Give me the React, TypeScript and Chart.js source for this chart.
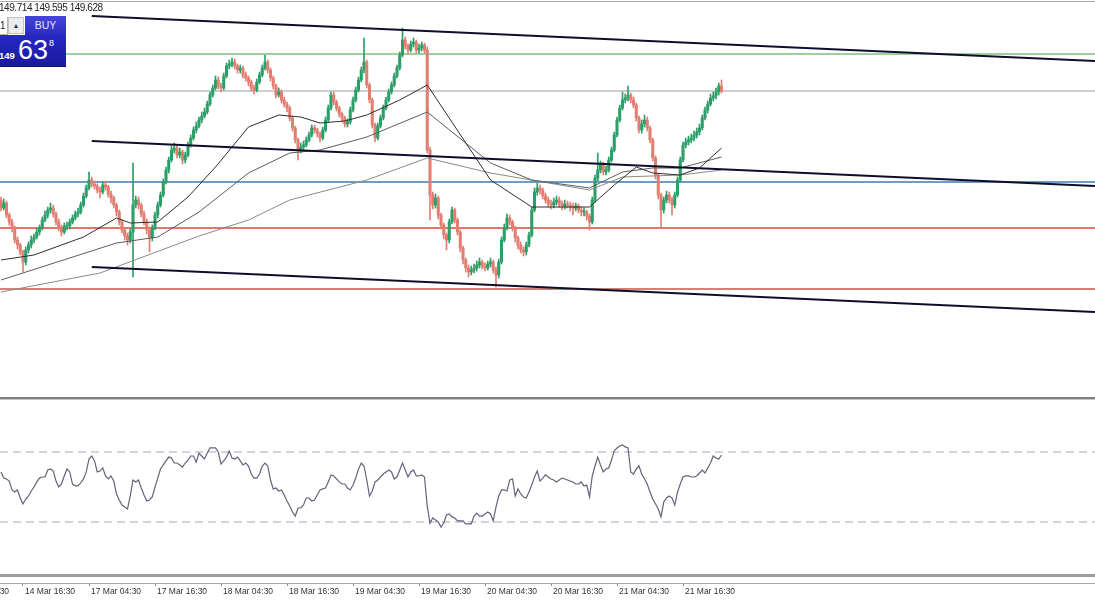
import React, { useEffect, useRef } from "react";
import { Chart, registerables } from "chart.js";
Chart.register(...registerables);

// ---- Price candles (M30 bars, index 0..262) ----
const opens = [
  148.55, 148.47, 148.52, 148.40, 148.33, 148.27, 148.15, 148.10, 148.03, 147.93,
  148.05, 148.10, 148.15, 148.18, 148.23, 148.27, 148.35, 148.40, 148.45, 148.47,
  148.41, 148.33, 148.27, 148.23, 148.29, 148.29, 148.33, 148.37, 148.41, 148.43,
  148.50, 148.59, 148.67, 148.75, 148.71, 148.69, 148.65, 148.63, 148.70, 148.68,
  148.61, 148.57, 148.50, 148.43, 148.33, 148.25, 148.19, 148.15, 148.23, 148.50,
  148.55, 148.50, 148.41, 148.33, 148.25, 148.17, 148.27, 148.40, 148.50, 148.60,
  148.73, 148.85, 148.95, 149.05, 149.07, 149.00, 149.03, 148.95, 149.00, 149.10,
  149.17, 149.25, 149.29, 149.35, 149.39, 149.43, 149.51, 149.60, 149.67, 149.75,
  149.69, 149.67, 149.79, 149.89, 149.91, 149.93, 149.89, 149.85, 149.87, 149.80,
  149.77, 149.73, 149.67, 149.65, 149.73, 149.80, 149.87, 149.93, 149.85, 149.77,
  149.69, 149.60, 149.63, 149.55, 149.51, 149.47, 149.37, 149.27, 149.15, 149.05,
  149.08, 149.10, 149.15, 149.20, 149.27, 149.25, 149.21, 149.17, 149.25, 149.35,
  149.47, 149.60, 149.53, 149.47, 149.41, 149.37, 149.31, 149.33, 149.45, 149.55,
  149.65, 149.75, 149.85, 149.93, 149.70, 149.55, 149.30, 149.17, 149.29, 149.37,
  149.47, 149.55, 149.63, 149.70, 149.79, 149.87, 150.00, 150.15, 150.09, 150.05,
  150.11, 150.13, 150.05, 150.07, 150.10, 150.05, 149.05, 148.60, 148.50, 148.57,
  148.40, 148.30, 148.20, 148.15, 148.33, 148.45, 148.35, 148.23, 148.07, 147.95,
  147.87, 147.83, 147.85, 147.87, 147.90, 147.93, 147.89, 147.87, 147.91, 147.93,
  147.85, 147.80, 147.93, 148.15, 148.27, 148.37, 148.33, 148.27, 148.17, 148.10,
  148.05, 148.03, 148.10, 148.20, 148.45, 148.63, 148.67, 148.65, 148.59, 148.55,
  148.51, 148.50, 148.53, 148.55, 148.51, 148.49, 148.51, 148.50, 148.48, 148.47,
  148.49, 148.45, 148.43, 148.43, 148.39, 148.33, 148.55, 148.77, 148.85, 148.90,
  148.83, 148.85, 148.95, 149.05, 149.20, 149.35, 149.47, 149.55, 149.57, 149.60,
  149.55, 149.50, 149.37, 149.25, 149.31, 149.35, 149.27, 149.15, 148.97, 148.80,
  148.60, 148.45, 148.55, 148.60, 148.55, 148.50, 148.60, 148.75, 148.95, 149.10,
  149.13, 149.15, 149.17, 149.20, 149.23, 149.27, 149.37, 149.45, 149.51, 149.57,
  149.59, 149.63, 149.69,
];
const highs = [
  148.58, 148.56, 148.54, 148.42, 148.36, 148.29, 148.18, 148.12, 148.05, 148.08,
  148.13, 148.19, 148.21, 148.27, 148.30, 148.38, 148.44, 148.48, 148.52, 148.50,
  148.43, 148.36, 148.30, 148.32, 148.33, 148.36, 148.40, 148.44, 148.47, 148.53,
  148.62, 148.70, 148.83, 148.78, 148.74, 148.71, 148.68, 148.73, 148.74, 148.70,
  148.64, 148.59, 148.52, 148.45, 148.35, 148.27, 148.22, 148.26, 148.92, 148.59,
  148.58, 148.52, 148.44, 148.36, 148.28, 148.30, 148.43, 148.53, 148.63, 148.76,
  148.88, 148.98, 149.09, 149.12, 149.10, 149.07, 149.05, 149.03, 149.13, 149.20,
  149.28, 149.33, 149.38, 149.43, 149.47, 149.54, 149.63, 149.70, 149.79, 149.78,
  149.72, 149.82, 149.92, 149.95, 149.97, 149.96, 149.91, 149.90, 149.89, 149.83,
  149.79, 149.75, 149.70, 149.76, 149.83, 149.90, 150.00, 149.95, 149.87, 149.79,
  149.71, 149.67, 149.65, 149.58, 149.53, 149.49, 149.39, 149.29, 149.17, 149.12,
  149.14, 149.18, 149.23, 149.30, 149.30, 149.27, 149.23, 149.28, 149.38, 149.50,
  149.63, 149.63, 149.55, 149.49, 149.43, 149.39, 149.36, 149.48, 149.58, 149.68,
  149.78, 149.88, 150.17, 149.95, 149.72, 149.57, 149.32, 149.32, 149.40, 149.50,
  149.58, 149.66, 149.73, 149.82, 149.90, 150.03, 150.27, 150.18, 150.11, 150.14,
  150.17, 150.15, 150.11, 150.13, 150.12, 150.08, 149.08, 148.63, 148.61, 148.59,
  148.42, 148.32, 148.22, 148.36, 148.48, 148.47, 148.37, 148.25, 148.09, 147.97,
  147.90, 147.89, 147.91, 147.94, 147.97, 147.95, 147.92, 147.94, 147.97, 147.95,
  147.88, 147.96, 148.18, 148.31, 148.41, 148.40, 148.35, 148.29, 148.19, 148.13,
  148.08, 148.13, 148.23, 148.48, 148.67, 148.72, 148.70, 148.67, 148.62, 148.58,
  148.55, 148.57, 148.59, 148.58, 148.54, 148.55, 148.54, 148.53, 148.52, 148.52,
  148.51, 148.48, 148.47, 148.45, 148.41, 148.58, 148.80, 149.02, 148.94, 148.93,
  148.89, 148.98, 149.08, 149.23, 149.38, 149.50, 149.63, 149.61, 149.69, 149.62,
  149.58, 149.52, 149.39, 149.35, 149.40, 149.38, 149.29, 149.17, 148.99, 148.82,
  148.62, 148.58, 148.64, 148.63, 148.58, 148.63, 148.78, 148.98, 149.13, 149.17,
  149.19, 149.21, 149.24, 149.27, 149.31, 149.40, 149.48, 149.54, 149.61, 149.63,
  149.67, 149.72, 149.75,
];
const lows = [
  148.44, 148.45, 148.37, 148.30, 148.23, 148.12, 148.06, 148.00, 147.83, 147.90,
  148.02, 148.07, 148.12, 148.16, 148.20, 148.25, 148.33, 148.37, 148.42, 148.38,
  148.30, 148.24, 148.19, 148.21, 148.25, 148.26, 148.31, 148.35, 148.38, 148.41,
  148.48, 148.57, 148.65, 148.68, 148.66, 148.62, 148.57, 148.61, 148.65, 148.58,
  148.52, 148.47, 148.39, 148.30, 148.22, 148.15, 148.10, 148.12, 147.78, 148.47,
  148.46, 148.38, 148.30, 148.21, 148.03, 148.14, 148.25, 148.37, 148.48, 148.58,
  148.71, 148.82, 148.93, 149.02, 148.97, 148.97, 148.91, 148.92, 148.98, 149.08,
  149.15, 149.22, 149.27, 149.32, 149.37, 149.41, 149.49, 149.58, 149.65, 149.66,
  149.63, 149.65, 149.77, 149.86, 149.88, 149.86, 149.82, 149.82, 149.77, 149.74,
  149.69, 149.64, 149.61, 149.63, 149.71, 149.78, 149.85, 149.82, 149.74, 149.66,
  149.57, 149.58, 149.52, 149.48, 149.43, 149.34, 149.24, 149.12, 148.95, 149.02,
  149.05, 149.08, 149.13, 149.18, 149.22, 149.18, 149.13, 149.15, 149.23, 149.33,
  149.45, 149.50, 149.44, 149.38, 149.33, 149.28, 149.28, 149.31, 149.43, 149.53,
  149.63, 149.73, 149.82, 149.67, 149.52, 149.27, 149.13, 149.15, 149.27, 149.35,
  149.45, 149.53, 149.61, 149.68, 149.77, 149.85, 149.98, 150.06, 150.01, 150.03,
  150.08, 150.02, 150.02, 150.04, 150.02, 149.02, 148.35, 148.46, 148.47, 148.36,
  148.26, 148.16, 148.05, 148.12, 148.31, 148.32, 148.20, 148.03, 147.91, 147.83,
  147.78, 147.80, 147.82, 147.84, 147.87, 147.86, 147.84, 147.85, 147.88, 147.82,
  147.68, 147.77, 147.91, 148.13, 148.25, 148.30, 148.24, 148.13, 148.06, 148.02,
  147.99, 148.00, 148.08, 148.18, 148.43, 148.60, 148.61, 148.56, 148.52, 148.48,
  148.46, 148.47, 148.50, 148.48, 148.45, 148.46, 148.47, 148.44, 148.40, 148.44,
  148.42, 148.39, 148.39, 148.35, 148.25, 148.31, 148.53, 148.74, 148.82, 148.80,
  148.80, 148.83, 148.93, 149.03, 149.18, 149.33, 149.45, 149.52, 149.54, 149.52,
  149.47, 149.34, 149.22, 149.22, 149.28, 149.24, 149.12, 148.94, 148.76, 148.56,
  148.28, 148.42, 148.52, 148.52, 148.40, 148.47, 148.58, 148.73, 148.93, 149.07,
  149.10, 149.12, 149.14, 149.17, 149.20, 149.25, 149.35, 149.42, 149.49, 149.54,
  149.56, 149.60, 149.62,
];
const closes = [
  148.47, 148.52, 148.40, 148.33, 148.27, 148.15, 148.10, 148.03, 147.93, 148.05,
  148.10, 148.15, 148.18, 148.23, 148.27, 148.35, 148.40, 148.45, 148.47, 148.41,
  148.33, 148.27, 148.23, 148.29, 148.29, 148.33, 148.37, 148.41, 148.43, 148.50,
  148.59, 148.67, 148.75, 148.71, 148.69, 148.65, 148.63, 148.70, 148.68, 148.61,
  148.57, 148.50, 148.43, 148.33, 148.25, 148.19, 148.15, 148.23, 148.50, 148.55,
  148.50, 148.41, 148.33, 148.25, 148.17, 148.27, 148.40, 148.50, 148.60, 148.73,
  148.85, 148.95, 149.05, 149.07, 149.00, 149.03, 148.95, 149.00, 149.10, 149.17,
  149.25, 149.29, 149.35, 149.39, 149.43, 149.51, 149.60, 149.67, 149.75, 149.69,
  149.67, 149.79, 149.89, 149.91, 149.93, 149.89, 149.85, 149.87, 149.80, 149.77,
  149.73, 149.67, 149.65, 149.73, 149.80, 149.87, 149.93, 149.85, 149.77, 149.69,
  149.60, 149.63, 149.55, 149.51, 149.47, 149.37, 149.27, 149.15, 149.05, 149.08,
  149.10, 149.15, 149.20, 149.27, 149.25, 149.21, 149.17, 149.25, 149.35, 149.47,
  149.60, 149.53, 149.47, 149.41, 149.37, 149.31, 149.33, 149.45, 149.55, 149.65,
  149.75, 149.85, 149.93, 149.70, 149.55, 149.30, 149.17, 149.29, 149.37, 149.47,
  149.55, 149.63, 149.70, 149.79, 149.87, 150.00, 150.15, 150.09, 150.05, 150.11,
  150.13, 150.05, 150.07, 150.10, 150.05, 149.05, 148.60, 148.50, 148.57, 148.40,
  148.30, 148.20, 148.15, 148.33, 148.45, 148.35, 148.23, 148.07, 147.95, 147.87,
  147.83, 147.85, 147.87, 147.90, 147.93, 147.89, 147.87, 147.91, 147.93, 147.85,
  147.80, 147.93, 148.15, 148.27, 148.37, 148.33, 148.27, 148.17, 148.10, 148.05,
  148.03, 148.10, 148.20, 148.45, 148.63, 148.67, 148.65, 148.59, 148.55, 148.51,
  148.50, 148.53, 148.55, 148.51, 148.49, 148.51, 148.50, 148.48, 148.47, 148.49,
  148.45, 148.43, 148.43, 148.39, 148.33, 148.55, 148.77, 148.85, 148.90, 148.83,
  148.85, 148.95, 149.05, 149.20, 149.35, 149.47, 149.55, 149.57, 149.60, 149.55,
  149.50, 149.37, 149.25, 149.31, 149.35, 149.27, 149.15, 148.97, 148.80, 148.60,
  148.45, 148.55, 148.60, 148.55, 148.50, 148.60, 148.75, 148.95, 149.10, 149.13,
  149.15, 149.17, 149.20, 149.23, 149.27, 149.37, 149.45, 149.51, 149.57, 149.59,
  149.63, 149.69, 149.64,
];

// ---- RSI (one value per bar) ----
const rsiValues = [
  58.6, 55.1, 54.6, 53.4, 48.3, 47.1, 48.3, 43.7, 40.3, 43.1,
  44.9, 47.7, 50.0, 52.9, 55.1, 55.7, 55.7, 59.7, 60.3, 59.1,
  53.4, 50.0, 51.7, 56.3, 60.3, 58.6, 51.7, 50.6, 50.6, 52.3,
  54.6, 58.6, 66.0, 67.7, 64.9, 58.6, 59.1, 60.9, 56.3, 54.6,
  56.3, 53.4, 46.0, 42.6, 39.7, 38.6, 37.4, 44.9, 54.0, 52.9,
  54.0, 49.4, 45.4, 42.0, 42.6, 44.3, 50.0, 55.1, 60.3, 62.6,
  64.9, 67.1, 66.6, 63.7, 63.7, 62.6, 61.4, 63.7, 65.4, 67.7,
  67.7, 64.3, 69.4, 67.7, 66.0, 69.4, 72.3, 72.3, 72.3, 70.0,
  63.1, 64.9, 67.1, 70.6, 66.6, 66.0, 67.1, 64.9, 62.6, 63.7,
  62.0, 57.4, 55.1, 55.1, 57.4, 62.0, 63.7, 62.0, 54.0, 48.9,
  49.4, 47.7, 48.3, 45.4, 42.0, 39.1, 35.7, 33.4, 38.0, 38.0,
  39.7, 43.7, 43.7, 42.0, 42.6, 45.4, 48.3, 48.9, 49.4, 52.9,
  56.9, 56.3, 54.6, 52.9, 51.7, 51.7, 49.4, 48.3, 51.1, 55.1,
  60.3, 63.7, 62.0, 54.0, 44.9, 47.7, 52.9, 54.0, 55.7, 57.4,
  58.6, 59.7, 58.6, 54.6, 55.7, 59.7, 63.7, 59.7, 55.7, 58.6,
  59.7, 56.3, 56.3, 56.9, 55.7, 39.1, 29.4, 32.3, 31.1, 30.0,
  27.1, 29.4, 34.0, 34.6, 32.9, 32.3, 30.6, 30.6, 30.6, 28.9,
  28.9, 28.9, 33.4, 35.1, 33.4, 33.4, 34.6, 35.7, 34.6, 30.6,
  38.6, 44.9, 48.3, 48.3, 47.7, 54.0, 54.6, 44.9, 48.9, 46.0,
  44.3, 43.7, 47.1, 51.1, 55.7, 59.1, 53.4, 55.1, 56.9, 55.7,
  54.6, 54.0, 52.9, 54.0, 55.1, 54.6, 54.0, 53.4, 52.9, 51.7,
  51.7, 52.9, 50.6, 51.1, 44.3, 56.3, 62.0, 67.1, 62.6, 58.6,
  60.3, 60.9, 65.4, 70.6, 72.3, 73.4, 74.0, 72.9, 72.3, 58.6,
  57.4, 60.3, 62.0, 57.4, 54.6, 51.7, 47.1, 43.1, 40.3, 37.4,
  32.9, 41.4, 43.7, 44.9, 43.7, 39.7, 47.1, 51.7, 55.7, 56.3,
  56.3, 55.7, 55.7, 56.3, 58.0, 59.7, 58.0, 60.9, 63.7, 67.7,
  66.6, 66.0, 68.3,
];
const rsiLevels = [70, 30];

// ---- Moving averages (bar index, price) ----
const ma1Idx = [0, 12, 30, 42, 47, 57, 68, 78, 90, 101, 109, 116, 125, 133, 145, 155, 178, 193, 214, 223, 231, 237, 247, 254, 262];
const ma1Val = [147.95, 148.0, 148.18, 148.37, 148.32, 148.33, 148.58, 148.88, 149.28, 149.4, 149.38, 149.32, 149.34, 149.4, 149.55, 149.7, 148.75, 148.48, 148.48, 148.7, 148.88, 148.82, 148.8, 148.87, 149.07];
const ma2Idx = [0, 42, 57, 72, 90, 105, 116, 133, 155, 178, 193, 214, 226, 237, 247, 262];
const ma2Val = [147.75, 148.12, 148.18, 148.43, 148.82, 149.02, 149.05, 149.18, 149.43, 148.92, 148.75, 148.67, 148.83, 148.87, 148.87, 148.98];
const ma3Idx = [0, 36, 72, 90, 105, 133, 155, 178, 214, 226, 247, 262];
const ma3Val = [147.63, 147.82, 148.19, 148.35, 148.55, 148.75, 148.97, 148.82, 148.65, 148.78, 148.8, 148.85];

// ---- Horizontal levels (green, bid, blue, red, red) ----
const levels = [150.01, 149.64, 148.73, 148.27, 147.66];

// ---- Trend channel (start/end bar index, prices) ----
const trendIdx = [33, 397.8];
const trendTop = [150.39, 149.94];
const trendMid = [149.14, 148.69];
const trendBot = [147.88, 147.43];

// ---- Time axis ----
const tickIdx = [-16, 8, 32, 56, 80, 104, 128, 152, 176, 200, 224, 248];
const tickLabels = [
  "14 Mar 04:30", "14 Mar 16:30", "17 Mar 04:30", "17 Mar 16:30", "18 Mar 04:30", "18 Mar 16:30",
  "19 Mar 04:30", "19 Mar 16:30", "20 Mar 04:30", "20 Mar 16:30", "21 Mar 04:30", "21 Mar 16:30",
];

// header quote
const quoteText = "149.714 149.595 149.628";

// ---- styles ----
const levelColors = ["#7cc07c", "#9c9c9c", "#3d7cb5", "#d9473b", "#c4574a"];
const levelWidths = [1.5, 1, 1.5, 1.5, 1.5];
const UP = "#2c9e68";
const DOWN = "#e27d72";

export default function App() {
  const mainRef = useRef<HTMLCanvasElement | null>(null);
  const rsiRef = useRef<HTMLCanvasElement | null>(null);

  useEffect(() => {
    document.body.style.margin = "0";
    document.body.style.background = "#ffffff";
    const xMin = -1 / 2.75;
    const xMax = 1094 / 2.75;
    const isUp = (i: number) => closes[i] >= opens[i];
    const bodies = closes.map((c, i) => ({ x: i, y: [opens[i], c] }));
    const wicks = closes.map((_, i) => ({ x: i, y: [lows[i], highs[i]] }));
    const hline = (v: number) => [{ x: xMin, y: v }, { x: xMax, y: v }];
    const series = (xs: number[], ys: number[]) => xs.map((x, k) => ({ x, y: ys[k] }));
    const lineDs = (data: any[], color: string, width: number, order: number, dash: number[] = []) => ({
      type: "line" as const,
      data,
      borderColor: color,
      borderWidth: width,
      pointRadius: 0,
      tension: 0,
      fill: false,
      order,
      borderDash: dash,
    });

    const main = new Chart(mainRef.current as HTMLCanvasElement, {
      type: "bar",
      data: {
        datasets: [
          ...levels.map((v, k) => lineDs(hline(v), levelColors[k], levelWidths[k], 10)),
          {
            type: "bar",
            data: wicks as any,
            backgroundColor: (ctx: any) => (ctx.dataIndex != null && isUp(ctx.dataIndex) ? UP : DOWN),
            barThickness: 1,
            grouped: false,
            borderWidth: 0,
            order: 8,
          },
          {
            type: "bar",
            data: bodies as any,
            backgroundColor: (ctx: any) => (ctx.dataIndex != null && isUp(ctx.dataIndex) ? UP : DOWN),
            barThickness: 2.4,
            grouped: false,
            borderWidth: 0,
            minBarLength: 1,
            order: 7,
          },
          lineDs(series(ma3Idx, ma3Val), "#8a8a8a", 1, 5),
          lineDs(series(ma2Idx, ma2Val), "#5c5c5c", 1, 4),
          lineDs(series(ma1Idx, ma1Val), "#2e2e2e", 1, 3),
          lineDs(series(trendIdx, trendTop), "#0e0e2c", 2, 1),
          lineDs(series(trendIdx, trendMid), "#0e0e2c", 2, 1),
          lineDs(series(trendIdx, trendBot), "#0e0e2c", 2, 1),
        ] as any,
      },
      options: {
        responsive: false,
        animation: false,
        devicePixelRatio: 1,
        events: [],
        layout: { padding: 0 },
        plugins: { legend: { display: false }, tooltip: { enabled: false } },
        scales: {
          x: { type: "linear", min: xMin, max: xMax, display: false, offset: false },
          y: { type: "linear", min: 146.57, max: 150.55, display: false, beginAtZero: false },
        },
      } as any,
    });

    const rsi = new Chart(rsiRef.current as HTMLCanvasElement, {
      type: "line",
      data: {
        datasets: [
          lineDs(hline(rsiLevels[0]), "#a9a9bf", 1, 3, [8, 5]),
          lineDs(hline(rsiLevels[1]), "#a9a9bf", 1, 3, [8, 5]),
          lineDs(rsiValues.map((v, i) => ({ x: i, y: v })), "#62627c", 1.2, 1),
        ] as any,
      },
      options: {
        responsive: false,
        animation: false,
        devicePixelRatio: 1,
        events: [],
        layout: { padding: 0 },
        plugins: { legend: { display: false }, tooltip: { enabled: false } },
        scales: {
          x: {
            type: "linear",
            min: xMin,
            max: xMax,
            offset: false,
            position: "bottom",
            afterBuildTicks: (s: any) => {
              s.ticks = tickIdx.map((v) => ({ value: v }));
            },
            afterFit: (s: any) => {
              s.height = 17;
              s.paddingLeft = 0;
              s.paddingRight = 0;
            },
            ticks: {
              autoSkip: false,
              maxRotation: 0,
              minRotation: 0,
              align: "start",
              padding: 1,
              labelOffset: 2,
              color: "#333333",
              font: { family: "'Liberation Sans', Arial, sans-serif", size: 8.5 },
              callback: (_v: any, i: number) => tickLabels[i] ?? "",
            },
            grid: { display: true, drawOnChartArea: false, drawTicks: true, tickLength: 3, color: "#8a8a8a" },
            border: { display: true, color: "#a8a8a8", width: 1 },
          },
          y: { type: "linear", min: -4.857, max: 99.714, display: false },
        },
      } as any,
    });

    return () => {
      main.destroy();
      rsi.destroy();
    };
  }, []);

  const abs = (s: React.CSSProperties): React.CSSProperties => ({ position: "absolute", ...s });
  const font = "'Liberation Sans', Arial, sans-serif";

  return (
    <div style={{ position: "relative", width: 1095, height: 600, overflow: "hidden", background: "#fff", fontFamily: font }}>
      <canvas ref={mainRef} width={1095} height={398} style={abs({ left: 0, top: 0, width: 1095, height: 398 })} />
      <canvas ref={rsiRef} width={1095} height={200} style={abs({ left: 0, top: 400, width: 1095, height: 200 })} />
      {/* frame lines */}
      <div style={abs({ left: 0, top: 1, width: 1095, height: 1, background: "#a9a9a9" })} />
      <div style={abs({ left: 0, top: 397, width: 1095, height: 2, background: "#808080" })} />
      <div style={abs({ left: 0, top: 399, width: 1095, height: 1, background: "#c4c4c4" })} />
      <div style={abs({ left: 0, top: 574, width: 1095, height: 3, background: "#9c9c9c" })} />
      {/* quote header */}
      <div style={abs({ left: -1, top: 2, fontSize: 10, letterSpacing: "-0.45px", lineHeight: "12px", color: "#222", whiteSpace: "nowrap" })}>{quoteText}</div>
      {/* one-click trading panel */}
      <div style={abs({ left: 0, top: 17, width: 7, height: 17, background: "#fff", borderRight: "1px solid #b5b5b5", borderBottom: "1px solid #b5b5b5", fontSize: 10, lineHeight: "17px", color: "#222", overflow: "hidden" })}>
        <span>1</span>
      </div>
      <div style={abs({ left: 8, top: 17, width: 16, height: 17, background: "#ececec", border: "1px solid #c4c4c4", boxSizing: "border-box", fontSize: 7, lineHeight: "15px", textAlign: "center", color: "#333" })}>▲</div>
      <div style={abs({ left: 25, top: 16, width: 41, height: 19, background: "linear-gradient(#4545da, #2b2bc2)", color: "#e4e4ff", fontSize: 10.5, lineHeight: "19px", textAlign: "center" })}>BUY</div>
      <div style={abs({ left: 0, top: 35, width: 66, height: 31, background: "linear-gradient(#2727c6, #1a1a9e)", borderBottom: "1px solid #12126e", color: "#fff", overflow: "hidden" })}>
        <div style={abs({ left: -1, top: 16, fontSize: 9.5, lineHeight: "10px", fontWeight: "bold" })}>149</div>
        <div style={abs({ left: 18, top: 2, fontSize: 27, lineHeight: "27px" })}>63</div>
        <div style={abs({ left: 49, top: 4, fontSize: 9, lineHeight: "9px" })}>8</div>
      </div>
    </div>
  );
}
